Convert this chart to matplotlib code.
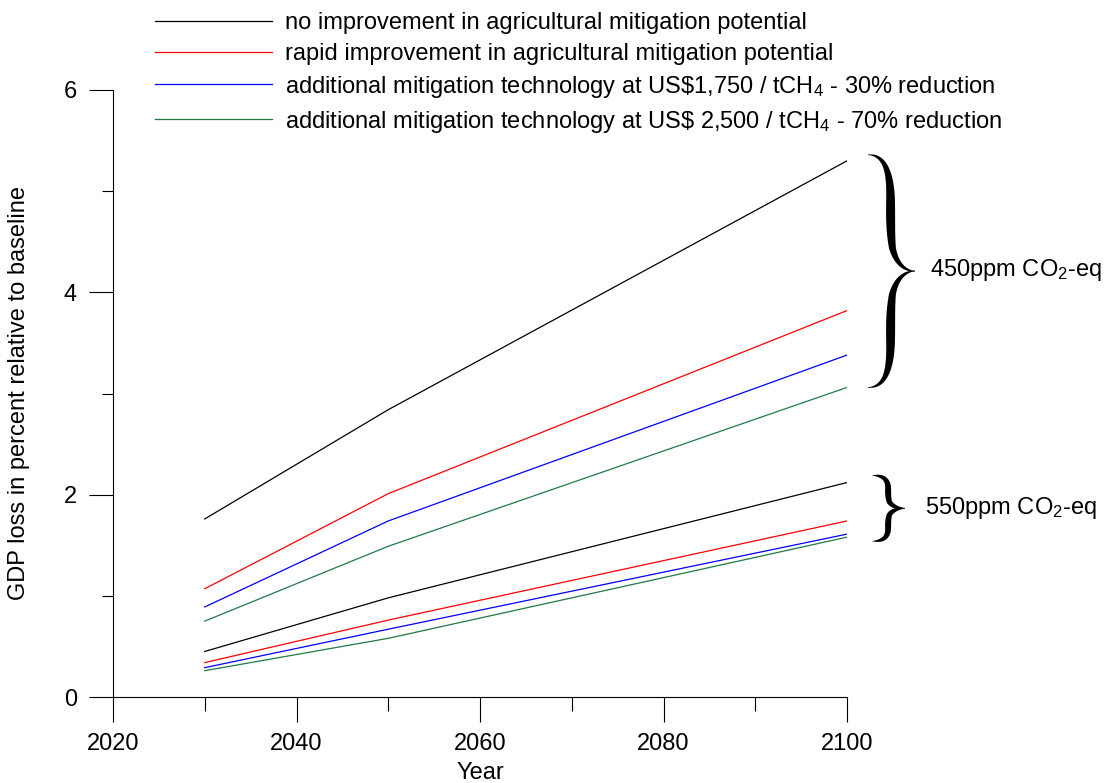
import matplotlib
matplotlib.use("Agg")
import numpy as np
import matplotlib.pyplot as plt
from matplotlib.patches import Polygon
from matplotlib.transforms import IdentityTransform
from matplotlib.ticker import MultipleLocator

plt.rcParams['font.family'] = ['Liberation Sans', 'DejaVu Sans']
plt.rcParams['mathtext.fontset'] = 'custom'
plt.rcParams['mathtext.rm'] = 'Liberation Sans'
plt.rcParams['mathtext.it'] = 'Liberation Sans'

years = [2030, 2050, 2100]

# 450ppm CO2-eq stabilisation
s450_none = [1.76, 2.84, 5.30]
s450_rapid = [1.07, 2.01, 3.82]
s450_tech30 = [0.89, 1.74, 3.38]
s450_tech70 = [0.75, 1.49, 3.06]

# 550ppm CO2-eq stabilisation
s550_none = [0.45, 0.98, 2.12]
s550_rapid = [0.34, 0.76, 1.74]
s550_tech30 = [0.29, 0.67, 1.61]
s550_tech70 = [0.26, 0.58, 1.58]

labels = [
    "no improvement in agricultural mitigation potential",
    "rapid improvement in agricultural mitigation potential",
    r"additional mitigation technology at US\$1,750 / tCH$_4$ - 30% reduction",
    r"additional mitigation technology at US\$ 2,500 / tCH$_4$ - 70% reduction",
]
colors = ['k', '#ff0000', '#0000ff', '#1e7a46']

fs = 17

fig = plt.figure(figsize=(11.09, 7.83), dpi=100)
ax = fig.add_axes([113/1109, 1 - 697/783, (847 - 113)/1109, (697 - 90)/783])

lw = 0.9
handles = []
for ser, c, lab in zip([s450_none, s450_rapid, s450_tech30, s450_tech70], colors, labels):
    h, = ax.plot(years, ser, color=c, lw=lw, label=lab)
    handles.append(h)
for ser, c in zip([s550_none, s550_rapid, s550_tech30, s550_tech70], colors):
    ax.plot(years, ser, color=c, lw=lw)

ax.set_xlim(2020, 2100)
ax.set_ylim(0, 6)
ax.xaxis.set_major_locator(MultipleLocator(20))
ax.xaxis.set_minor_locator(MultipleLocator(10))
ax.yaxis.set_major_locator(MultipleLocator(2))
ax.yaxis.set_minor_locator(MultipleLocator(1))
ax.tick_params(which='major', axis='x', length=18, width=0.8, direction='out', labelsize=fs, pad=8)
ax.tick_params(which='minor', axis='x', length=10, width=0.8, direction='out')
ax.tick_params(which='major', axis='y', length=17, width=0.8, direction='out', labelsize=fs, pad=9)
ax.tick_params(which='minor', axis='y', length=8, width=0.8, direction='out')
for sp in ['top', 'right']:
    ax.spines[sp].set_visible(False)
for sp in ['left', 'bottom']:
    ax.spines[sp].set_linewidth(0.8)

ax.set_xlabel("Year", fontsize=fs, labelpad=5)
ax.set_ylabel("GDP loss in percent relative to baseline", fontsize=fs, labelpad=24)

fig.legend(handles=handles, loc='upper left', bbox_to_anchor=(143/1109, 1.0),
           frameon=False, fontsize=fs, handlelength=4.95, handletextpad=0.55,
           labelspacing=0.38, borderaxespad=0.1)


def bezier(p0, p1, p2, p3, n=40):
    t = np.linspace(0, 1, n)[:, None]
    return ((1 - t) ** 3 * p0 + 3 * (1 - t) ** 2 * t * p1
            + 3 * (1 - t) * t ** 2 * p2 + t ** 3 * p3)


def draw_brace(x0, x1, y0, y1, wmax):
    # curly brace between data x0..x1 and y0..y1, built in pixel space
    (px0, py0), (px1, py1) = ax.transData.transform([(x0, y0), (x1, y1)])
    a = np.array
    # upper half, normalised: u across (0 left, 1 tip), v down from top (0..0.5)
    top = np.vstack([
        bezier(a([0.0, 0.0]), a([0.35, 0.0]), a([0.48, 0.07]), a([0.48, 0.2])),
        bezier(a([0.48, 0.2]), a([0.48, 0.28]), a([0.48, 0.34]), a([0.52, 0.4]))[1:],
        bezier(a([0.52, 0.4]), a([0.6, 0.47]), a([0.8, 0.5]), a([1.0, 0.5]))[1:],
    ])
    w = px1 - px0
    h = py1 - py0
    half = np.column_stack([px0 + top[:, 0] * w, py1 - top[:, 1] * h])
    seg = np.hypot(*np.diff(half, axis=0).T)
    s = np.concatenate([[0], np.cumsum(seg)]) / seg.sum()
    thick = np.maximum(wmax * np.sin(np.pi * s) ** 0.8, 0.8)
    for sign in (1, -1):
        pts = half.copy()
        if sign == -1:
            pts[:, 1] = py0 + py1 - pts[:, 1]
        d = np.gradient(pts, axis=0)
        nrm = np.column_stack([-d[:, 1], d[:, 0]])
        nrm /= np.hypot(nrm[:, 0], nrm[:, 1])[:, None]
        outline = np.vstack([pts + nrm * thick[:, None] / 2,
                             (pts - nrm * thick[:, None] / 2)[::-1]])
        ax.add_patch(Polygon(outline, closed=True, facecolor='k', edgecolor='none',
                             transform=IdentityTransform(), clip_on=False))


draw_brace(2102.3, 2107.4, s450_tech70[-1], s450_none[-1] + 0.06, 9)
draw_brace(2102.8, 2106.3, s550_tech70[-1] - 0.04, s550_none[-1] + 0.07, 6)

ax.text(2109.0, 4.22, r"450ppm CO$_2$-eq", fontsize=fs, va='center', ha='left', clip_on=False)
ax.text(2108.5, 1.87, r"550ppm CO$_2$-eq", fontsize=fs, va='center', ha='left', clip_on=False)

fig.savefig("out.png", dpi=100)
